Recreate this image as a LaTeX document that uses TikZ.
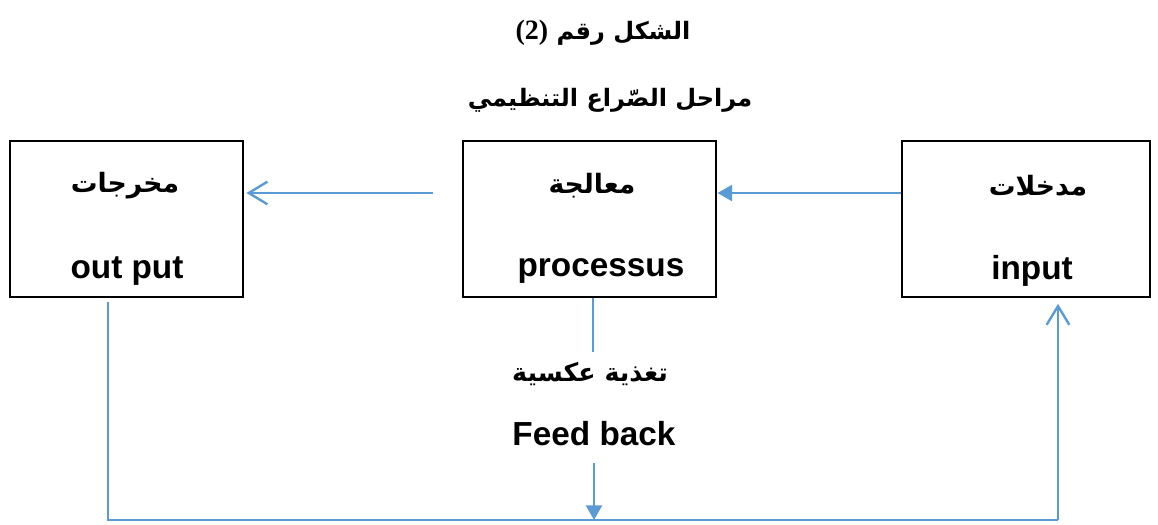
\documentclass[tikz,border=0pt]{standalone}
\usepackage{fontspec}
\setmainfont{Liberation Sans}
\newfontfamily\arabicfont[Script=Arabic]{DejaVu Sans}
\newfontfamily\numfont{Liberation Serif}
\TeXXeTstate=1
\usetikzlibrary{arrows.meta}
\definecolor{lineblue}{RGB}{91,155,213}
\tikzset{every picture/.style={line width=0.75pt}}
\tikzset{
  stagebox/.style={draw, line width=2.2pt, minimum height=117pt, inner sep=0pt},
  artext/.style={font=\arabicfont\bfseries\fontsize{20}{24}\selectfont},
  titletext/.style={font=\arabicfont\bfseries\fontsize{18}{22}\selectfont},
  latext/.style={font=\bfseries\fontsize{25}{30}\selectfont},
  flow/.style={draw=lineblue, line width=1.8pt},
  openhead/.style={-{Straight Barb[length=14pt,width=17pt,line width=1.8pt]}},
  fullhead/.style={-{Triangle[length=11pt,width=12pt]}}
}

\begin{document}
\begin{tikzpicture}[x=0.75pt,y=0.75pt,yscale=-1,xscale=1]
	\useasboundingbox (0,0) rectangle (1158,525);

	% titles
	\node[titletext] (title) at (603,33) {\beginR الشكل رقم \beginL{\numfont\bfseries\fontsize{21}{24}\selectfont (2)}\endL\endR};
	\node[titletext] (subtitle) at (610,100) {\beginR مراحل الصّراع التنظيمي\endR};

	% boxes
	\node[stagebox, minimum width=174.75pt] (outbox) at (126.5,219) {};
	\node[stagebox, minimum width=189.75pt] (procbox) at (589.5,219) {};
	\node[stagebox, minimum width=186pt] (inbox) at (1026,219) {};

	% Text Node
	\node[artext] (outar) at (125,186) {\beginR مخرجات\endR};
	\node[latext] (outlat) at (127,271) {out put};
	\node[artext] (procar) at (592,186) {\beginR معالجة\endR};
	\node[latext] (proclat) at (601,271) {processus};
	\node[artext] (inar) at (1038,186) {\beginR مدخلات\endR};
	\node[latext] (inlat) at (1032,271) {input};
	\node[artext, font=\arabicfont\bfseries\fontsize{19}{23}\selectfont] (fbar) at (590,374) {\beginR تغذية عكسية\endR};
	\node[latext] (fblat) at (594,434) {Feed back};

	% connectors
	\coordinate (row) at (0,193);
	\coordinate (outstart) at (433,193);
	\coordinate (fbtop) at (593,352);
	\coordinate (fbstart) at (594,463);
	\coordinate (fbend) at (594,520);
	\coordinate (bl) at (108,520);
	\coordinate (br) at (1058,520);

	\draw[flow, fullhead] (inbox.west |- row) -- (procbox.east |- row);
	\draw[flow, openhead] (outstart) -- ([xshift=1.5pt]outbox.east |- row);
	\draw[flow] (procbox.south -| fbtop) -- (fbtop);
	\draw[flow, fullhead] (fbstart) -- (fbend);
	\draw[flow] ([yshift=3pt]outbox.south -| bl) -- (bl) -- (br);
	\draw[flow, openhead] (br) -- ([yshift=4pt]inbox.south -| br);

\end{tikzpicture}
\end{document}
